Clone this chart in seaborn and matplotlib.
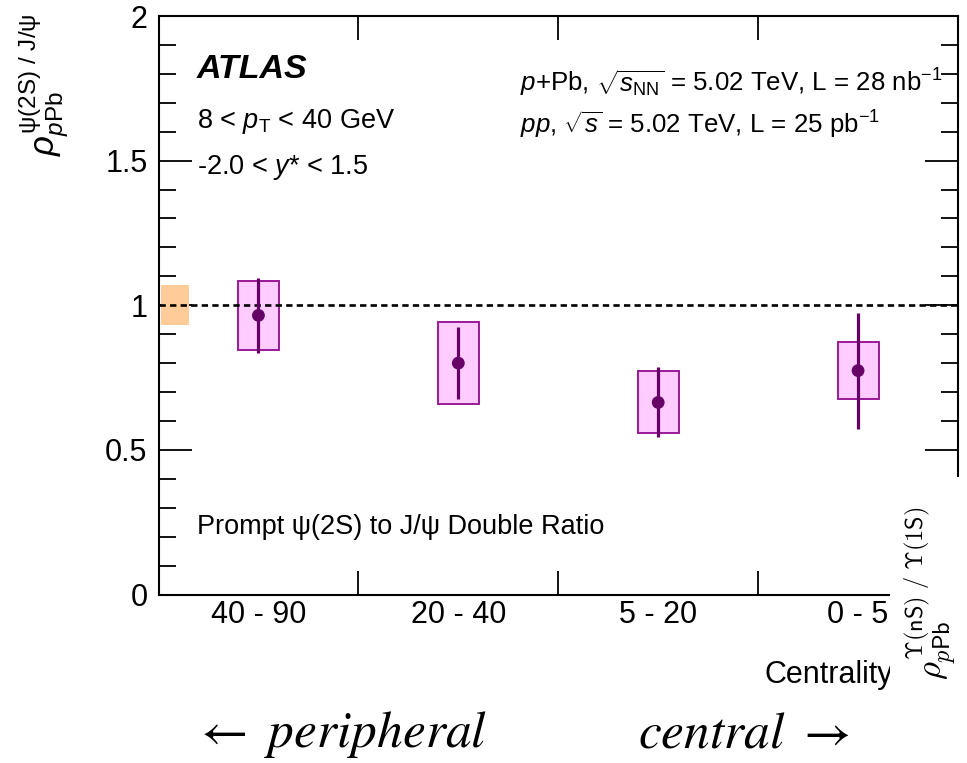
import numpy as np
import pandas as pd
import matplotlib
matplotlib.use("Agg")
import matplotlib.pyplot as plt
from matplotlib.patches import Rectangle
import seaborn as sns

# ---------------- data ----------------
categories = ["40 - 90", "20 - 40", "5 - 20", "0 - 5"]
ratio = [0.965, 0.800, 0.664, 0.774]
stat_lo = [0.834, 0.675, 0.545, 0.572]
stat_hi = [1.094, 0.924, 0.786, 0.974]
sys_lo = [0.846, 0.657, 0.557, 0.676]
sys_hi = [1.083, 0.942, 0.774, 0.872]
global_unc = 0.07
y_ticks = [0, 0.5, 1, 1.5, 2]
y_tick_labels = ["0", "0.5", "1", "1.5", "2"]

df = pd.DataFrame({
    "centrality": categories,
    "pos": np.arange(len(categories)),
    "ratio": ratio,
    "stat_lo": stat_lo,
    "stat_hi": stat_hi,
    "sys_lo": sys_lo,
    "sys_hi": sys_hi,
})

# ---------------- style ----------------
sns.set_style("ticks")
plt.rcParams["font.family"] = ["Liberation Sans", "DejaVu Sans"]
plt.rcParams["mathtext.fontset"] = "custom"
plt.rcParams["mathtext.rm"] = "Liberation Sans"
plt.rcParams["mathtext.it"] = "Liberation Sans:italic"
plt.rcParams["mathtext.bf"] = "Liberation Sans:bold"
plt.rcParams["mathtext.sf"] = "Liberation Sans"
for k in ["text.color", "axes.labelcolor", "xtick.color", "ytick.color",
          "axes.edgecolor"]:
    plt.rcParams[k] = "black"

W, H = 967, 763
fig = plt.figure(figsize=(W / 100, H / 100), dpi=100)
fig.patch.set_facecolor("white")

L, R, T, B = 158.5, 958, 16, 594.5
ax = fig.add_axes([L / W, 1 - B / H, (R - L) / W, (B - T) / H])
ax.set_facecolor("white")

PURPLE = "#660066"
BOX_EDGE = "#9a1a9a"
BOX_FILL = "#ffccff"
ORANGE = "#ffcc99"

# global uncertainty box
ax.bar(-0.415, 2 * global_unc, bottom=1 - global_unc, width=0.14,
       color=ORANGE, linewidth=0, zorder=1)

# systematic boxes
ax.bar(df["pos"], df["sys_hi"] - df["sys_lo"], bottom=df["sys_lo"], width=0.205,
       facecolor=BOX_FILL, edgecolor=BOX_EDGE, linewidth=1.4, zorder=2)

# dashed unity line
ax.axhline(1.0, color="black", lw=1.9, ls=(0, (2.4, 1.6)), zorder=3)

# statistical error bars
ax.vlines(df["pos"], df["stat_lo"], df["stat_hi"], color=PURPLE, lw=2.3, zorder=4)

# points
sns.scatterplot(data=df, x="pos", y="ratio", ax=ax, color=PURPLE, s=85,
                edgecolor="none", zorder=5, legend=False)

ax.set_xlim(-0.5, 3.5)
ax.set_ylim(0, 2)
ax.set_xlabel("")
ax.set_ylabel("")

# x ticks: boundaries (major, unlabeled), categories (minor, labeled)
ax.set_xticks([0.5, 1.5, 2.5])
ax.set_xticklabels([])
ax.set_xticks(df["pos"], minor=True)
ax.set_xticklabels(categories, minor=True)
ax.tick_params(axis="x", which="major", direction="in", length=17, width=1.3,
               top=True, bottom=True, labelbottom=False, color="black")
ax.tick_params(axis="x", which="minor", length=0, labelsize=22, pad=4,
               top=False, bottom=True, labelbottom=True, labelcolor="black")

# y ticks
ax.set_yticks(y_ticks)
ax.set_yticklabels(y_tick_labels)
ax.set_yticks(np.arange(0, 2.0001, 0.1), minor=True)
ax.tick_params(axis="y", which="major", direction="in", length=24, width=1.3,
               left=True, right=True, labelsize=22, pad=8, color="black",
               labelcolor="black")
ax.tick_params(axis="y", which="minor", direction="in", length=12, width=1.3,
               left=True, right=True, color="black")

for sp in ax.spines.values():
    sp.set_visible(True)
    sp.set_linewidth(1.5)
    sp.set_color("black")

# x axis title
ax.set_xlabel("Centrality", fontsize=22, loc="right", color="black")
ax.xaxis.set_label_coords((893 - L) / (R - L), (B - 660) / (B - T))


def fx(x):
    return x / W


def fy(y):
    return 1 - y / H


# y axis title
fig.text(fx(44), fy(13),
         r"$\rho^{\mathrm{\psi(2S)\ /\ J/\psi}}_{p\mathrm{Pb}}$",
         rotation=90, ha="center", va="top", fontsize=25)

# annotations
fig.text(fx(197), fy(70), "ATLAS", fontsize=24.5, fontweight="bold",
         fontstyle="italic", ha="left", va="center")
fig.text(fx(197), fy(122), r"8 < $p_{\mathrm{T}}$ < 40 GeV", fontsize=19.5,
         ha="left", va="center")
fig.text(fx(197), fy(168), r"-2.0 < $y$* < 1.5", fontsize=19.5,
         ha="left", va="center")
fig.text(fx(520), fy(83),
         r"$p$+Pb, $\sqrt{s_{\mathrm{NN}}}$ = 5.02 TeV, L = 28 nb$^{\mathrm{-1}}$",
         fontsize=18.6, ha="left", va="center")
fig.text(fx(520), fy(125),
         r"$pp$, $\sqrt{s}$ = 5.02 TeV, L = 25 pb$^{\mathrm{-1}}$",
         fontsize=18.6, ha="left", va="center")
fig.text(fx(197), fy(527), "Prompt \u03c8(2S) to J/\u03c8 Double Ratio",
         fontsize=19.5, ha="left", va="center")

# white cover for the neighbouring panel region
cover = Rectangle((890 / W, 0), 1 - 890 / W, (H - 477) / H,
                  transform=fig.transFigure, facecolor="white",
                  edgecolor="none", zorder=10)
fig.add_artist(cover)

# neighbouring panel's y-title
fig.text(fx(930), fy(506),
         r"$\rho^{\Upsilon\mathsf{(nS)\ /\ }\Upsilon\mathsf{(1S)}}_{p\mathsf{Pb}}$",
         math_fontfamily="cm",
         rotation=90, ha="center", va="top", fontsize=25, zorder=11)

# peripheral / central arrows
fig.text(fx(193), fy(747), r"$\leftarrow\ \mathit{peripheral}$",
         math_fontfamily="stix", fontsize=37, ha="left", va="baseline")
fig.text(fx(849), fy(747), r"$\mathit{central}\ \rightarrow$",
         math_fontfamily="stix", fontsize=37, ha="right", va="baseline")

fig.savefig("out.png", dpi=100, facecolor="white")
